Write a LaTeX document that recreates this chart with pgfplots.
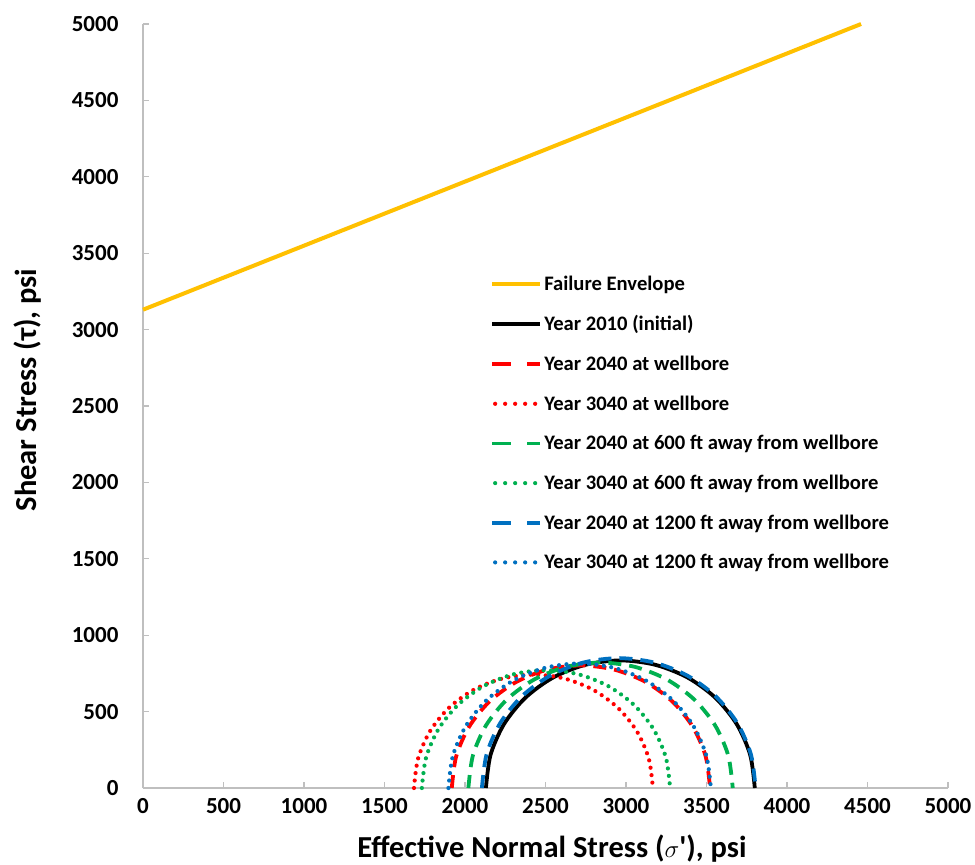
\documentclass[border=0pt]{standalone}
\usepackage{pgfplots}
\pgfplotsset{compat=1.18}
\usepackage{fontspec}
\setmainfont{Carlito}

\definecolor{envgold}{HTML}{FFC000}
\definecolor{exred}{HTML}{FF0000}
\definecolor{exgreen}{HTML}{00B050}
\definecolor{exblue}{HTML}{0070C0}
\definecolor{axgray}{HTML}{BFBFBF}

\pgfplotsset{
  mohr/.style={smooth, line width=3.8pt},
  dashedc/.style={mohr, dash pattern=on 13pt off 8pt,
    legend image code/.code={\draw[##1, dash pattern=on 19pt off 16pt] (0pt,0pt) -- (48pt,0pt);}},
  dottedc/.style={smooth, line width=4.2pt, line cap=round, dash pattern=on 0pt off 7.5pt,
    legend image code/.code={\draw[##1, dash pattern=on 0pt off 10pt] (3pt,0pt) -- (48pt,0pt);}},
}

\begin{document}
\begin{tikzpicture}
\useasboundingbox (-143pt,-77pt) rectangle (832pt,788pt);
\begin{axis}[
  at={(0pt,0pt)}, anchor=south west,
  scale only axis, width=805pt, height=764pt,
  xmin=0, xmax=5000, ymin=0, ymax=5000,
  clip=false,
  axis x line=bottom, axis y line=left,
  axis line style={axgray, line width=1.3pt, -},
  xtick={0,500,...,5000}, ytick={0,500,...,5000},
  tick style={axgray, line width=1.2pt}, major tick length=6pt, tick align=inside,
  /pgf/number format/assume math mode=true,
  /pgf/number format/1000 sep={},
  ticklabel style={font=\fontsize{23}{26}\selectfont\bfseries},
  yticklabel style={xshift=-21pt},
  xticklabel style={yshift=-7pt},
  xlabel={Effective Normal Stress ($\sigma$\textquotesingle), psi},
  ylabel={Shear Stress (τ), psi},
  label style={font=\fontsize{30.5}{34}\selectfont\bfseries},
  xlabel style={at={(axis description cs:0.508,-0.079)}, anchor=center},
  ylabel style={at={(axis description cs:-0.143,0.521)}, anchor=center},
  legend style={at={(axis description cs:0.431,0.673)}, anchor=north west,
    draw=none, fill=none, inner sep=0pt, row sep=19.7pt,
    font=\fontsize{20.6}{24}\selectfont\bfseries},
  legend cell align=left,
  legend image code/.code={\draw[#1] (0pt,0pt) -- (48pt,0pt);},
]

% Mohr-Coulomb failure envelope
\addplot[envgold, line width=4pt] coordinates {(0,3130) (4460,5000)};
\addlegendentry{Failure Envelope}

% Mohr circles (upper halves), sampled every 15 degrees
\addplot[black, mohr] coordinates {
 (2130,0) (2158.5,216.1) (2241.9,417.5) (2374.6,590.4) (2547.5,723.1) (2748.9,806.5)
 (2965,835) (3181.1,806.5) (3382.5,723.1) (3555.4,590.4) (3688.1,417.5) (3771.5,216.1) (3800,0)};
\addlegendentry{Year 2010 (initial)}

\addplot[exred, dashedc] coordinates {
 (1918,0) (1945.3,207.6) (2025.5,401) (2152.9,567.1) (2319,694.5) (2512.4,774.7)
 (2720,802) (2927.6,774.7) (3121,694.5) (3287.1,567.1) (3414.5,401) (3494.7,207.6) (3522,0)};
\addlegendentry{Year 2040 at wellbore}

\addplot[exred, dottedc] coordinates {
 (1683,0) (1708.3,192) (1782.4,371) (1900.3,524.7) (2054,642.6) (2233,716.7)
 (2425,742) (2617,716.7) (2796,642.6) (2949.7,524.7) (3067.6,371) (3141.7,192) (3167,0)};
\addlegendentry{Year 3040 at wellbore}

\addplot[exgreen, dashedc] coordinates {
 (2021,0) (2049,212.5) (2131,410.5) (2261.5,580.5) (2431.5,711) (2629.5,793)
 (2842,821) (3054.5,793) (3252.5,711) (3422.5,580.5) (3553,410.5) (3635,212.5) (3663,0)};
\addlegendentry{Year 2040 at 600 ft away from wellbore}

\addplot[exgreen, dottedc] coordinates {
 (1732,0) (1758.3,199.5) (1835.3,385.5) (1957.8,545.2) (2117.5,667.7) (2303.5,744.7)
 (2503,771) (2702.5,744.7) (2888.5,667.7) (3048.2,545.2) (3170.7,385.5) (3247.7,199.5) (3274,0)};
\addlegendentry{Year 3040 at 600 ft away from wellbore}

\addplot[exblue, dashedc] coordinates {
 (2105,0) (2134,220) (2218.9,425) (2354,601) (2530,736.1) (2735,821)
 (2955,850) (3175,821) (3380,736.1) (3556,601) (3691.1,425) (3776,220) (3805,0)};
\addlegendentry{Year 2040 at 1200 ft away from wellbore}

\addplot[exblue, dottedc] coordinates {
 (1897,0) (1924.8,210.9) (2006.2,407.5) (2135.7,576.3) (2304.5,705.8) (2501.1,787.2)
 (2712,815) (2922.9,787.2) (3119.5,705.8) (3288.3,576.3) (3417.8,407.5) (3499.2,210.9) (3527,0)};
\addlegendentry{Year 3040 at 1200 ft away from wellbore}

\end{axis}
\end{tikzpicture}
\end{document}
